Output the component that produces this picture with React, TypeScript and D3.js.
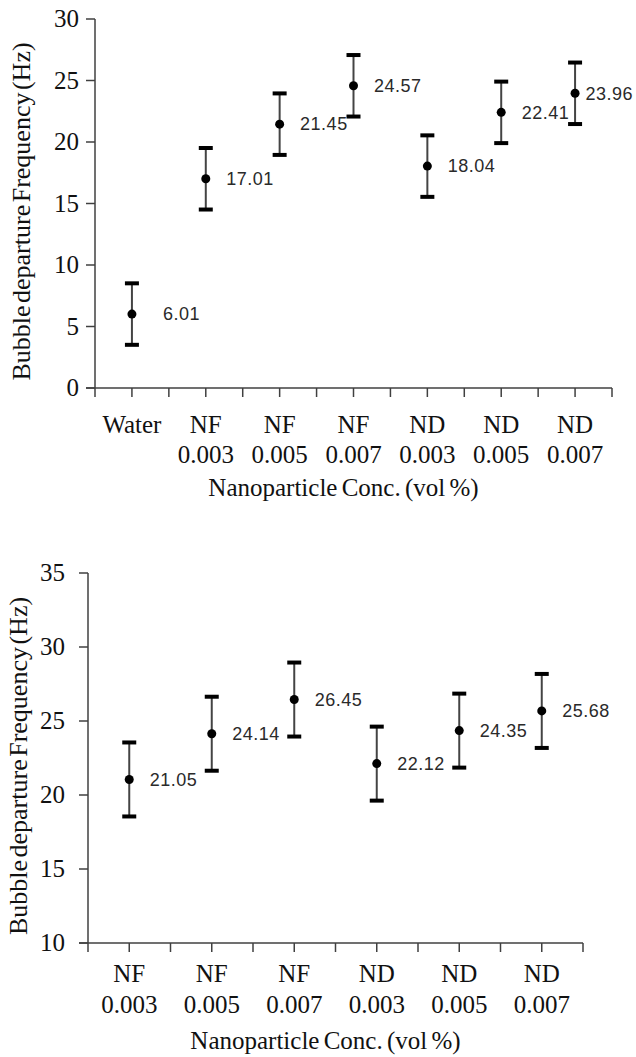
import React from "react";
import * as d3 from "d3";

// ---- Data ----
const topCategories = ["Water", "NF 0.003", "NF 0.005", "NF 0.007", "ND 0.003", "ND 0.005", "ND 0.007"];
const topValues = [6.01, 17.01, 21.45, 24.57, 18.04, 22.41, 23.96];
const topErrors = [2.5, 2.5, 2.5, 2.5, 2.5, 2.5, 2.5];
const topYTicks = [0, 5, 10, 15, 20, 25, 30];

const bottomCategories = ["NF 0.003", "NF 0.005", "NF 0.007", "ND 0.003", "ND 0.005", "ND 0.007"];
const bottomValues = [21.05, 24.14, 26.45, 22.12, 24.35, 25.68];
const bottomErrors = [2.5, 2.5, 2.5, 2.5, 2.5, 2.5];
const bottomYTicks = [10, 15, 20, 25, 30, 35];

const yTitle = "Bubble departure Frequency (Hz)";
const xTitle = "Nanoparticle Conc. (vol %)";

const W = 636;
const H = 1057;

type ChartProps = {
  categories: string[];
  values: number[];
  errors: number[];
  yTicks: number[];
  left: number;
  right: number;
  top: number;
  bottom: number;
  tickLabelGap: number;
  yTitleX: number;
  line1: number;
  line2: number;
  titleDy: number;
};

const AXIS = "#404040";
const SERIF = "'Liberation Serif', 'Times New Roman', serif";
const SANS = "'Liberation Sans', Arial, sans-serif";

function Chart(p: ChartProps) {
  const x = d3.scaleBand<string>().domain(p.categories).range([p.left, p.right]).padding(0);
  const yExt = d3.extent(p.yTicks) as [number, number];
  const y = d3.scaleLinear().domain(yExt).range([p.bottom, p.top]);
  const bw = x.bandwidth();
  const xTickPos: number[] = [];
  p.categories.forEach((c, i) => {
    const s = x(c)!;
    xTickPos.push(s);
    xTickPos.push(s + bw / 2);
    if (i === p.categories.length - 1) xTickPos.push(s + bw);
  });
  const labelW = 50;
  return (
    <g>
      {/* y axis */}
      <line x1={p.left} x2={p.left} y1={p.top} y2={p.bottom} stroke={AXIS} strokeWidth={1.5} />
      {p.yTicks.map((t) => (
        <g key={"yt" + t}>
          <line x1={p.left - 9} x2={p.left} y1={y(t)} y2={y(t)} stroke={AXIS} strokeWidth={1.5} />
          <text
            x={p.left - 9 - p.tickLabelGap}
            y={y(t)}
            dy="0.33em"
            textAnchor="end"
            fontFamily={SERIF}
            fontSize={25}
            fill="#111"
          >
            {t}
          </text>
        </g>
      ))}
      {/* x axis */}
      <line x1={p.left - 9} x2={p.right} y1={p.bottom} y2={p.bottom} stroke={AXIS} strokeWidth={1.5} />
      {xTickPos.map((t, i) => (
        <line key={"xt" + i} x1={t} x2={t} y1={p.bottom} y2={p.bottom + 9} stroke={AXIS} strokeWidth={1.5} />
      ))}
      {p.categories.map((c) => {
        const parts = c.split(" ");
        const cx = x(c)! + bw / 2;
        return (
          <text key={"xl" + c} textAnchor="middle" fontFamily={SERIF} fontSize={25} fill="#111">
            {parts.map((s, j) => (
              <tspan key={j} x={cx} y={p.bottom + (j === 0 ? p.line1 : p.line2)}>
                {s}
              </tspan>
            ))}
          </text>
        );
      })}
      {/* titles */}
      <text
        x={(p.left + p.right) / 2 - 10}
        y={p.bottom + p.titleDy}
        textAnchor="middle"
        fontFamily={SERIF}
        fontSize={25}
        wordSpacing={-2}
        fill="#111"
      >
        {xTitle}
      </text>
      <text
        transform={`translate(${p.yTitleX},${(p.top + p.bottom) / 2 + 8}) rotate(-90)`}
        textAnchor="middle"
        fontFamily={SERIF}
        fontSize={26}
        wordSpacing={-4}
        fill="#111"
      >
        {yTitle}
      </text>
      {/* error bars and points */}
      {p.categories.map((c, i) => {
        const cx = x(c)! + bw / 2;
        const v = p.values[i];
        const e = p.errors[i];
        const lx = Math.min(cx + 18 + labelW, W - 3);
        return (
          <g key={"pt" + c}>
            <line x1={cx} x2={cx} y1={y(v + e)} y2={y(v - e)} stroke="#444" strokeWidth={2} />
            <line x1={cx - 7} x2={cx + 7} y1={y(v + e)} y2={y(v + e)} stroke="#000" strokeWidth={4} />
            <line x1={cx - 7} x2={cx + 7} y1={y(v - e)} y2={y(v - e)} stroke="#000" strokeWidth={4} />
            <circle cx={cx} cy={y(v)} r={4.5} fill="#000" />
            <text
              x={lx}
              y={y(v)}
              dy="0.35em"
              textAnchor="end"
              fontFamily={SANS}
              fontSize={18}
              letterSpacing={0.5}
              fill="#2a2a2a"
            >
              {v.toFixed(2)}
            </text>
          </g>
        );
      })}
    </g>
  );
}

export default function App() {
  return (
    <svg
      width={W}
      height={H}
      style={{ position: "absolute", left: 0, top: 0, background: "#fff" }}
    >
      <rect width={W} height={H} fill="#fff" />
      <Chart
        categories={topCategories}
        values={topValues}
        errors={topErrors}
        yTicks={topYTicks}
        left={95}
        right={612}
        top={19}
        bottom={388}
        tickLabelGap={7}
        yTitleX={30}
        line1={45}
        line2={75}
        titleDy={108}
      />
      <Chart
        categories={bottomCategories}
        values={bottomValues}
        errors={bottomErrors}
        yTicks={bottomYTicks}
        left={88}
        right={583}
        top={573}
        bottom={943}
        tickLabelGap={14}
        yTitleX={27}
        line1={39}
        line2={70}
        titleDy={106}
      />
    </svg>
  );
}
